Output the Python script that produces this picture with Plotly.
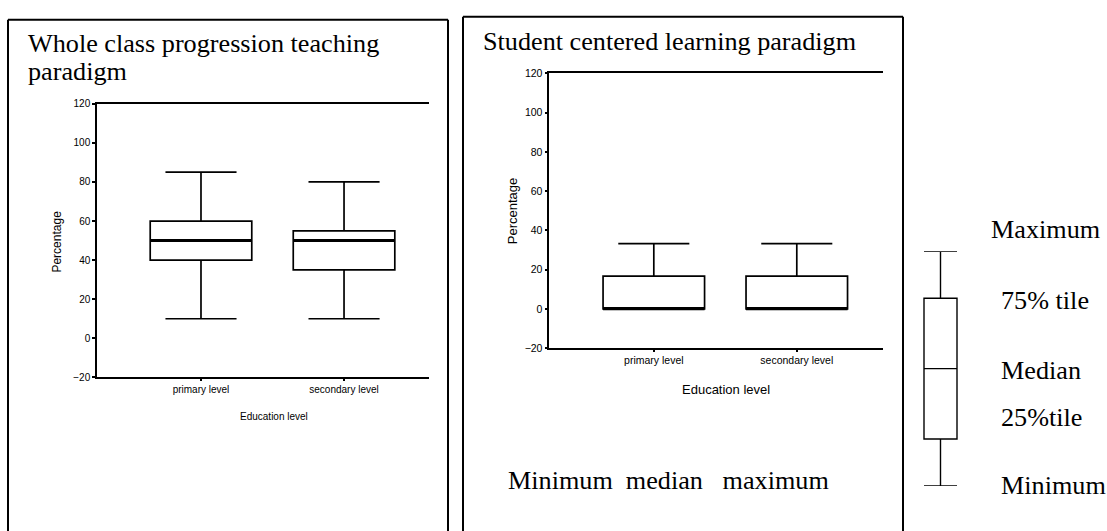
import plotly.graph_objects as go

W, H = 1107, 531

# ---------------- data ----------------
categories = ["primary level", "secondary level"]

# Whole class progression teaching paradigm
whole_min = [10, 10]
whole_q1 = [40, 35]
whole_median = [50, 50]
whole_q3 = [60, 55]
whole_max = [85, 80]

# Student centered learning paradigm
student_min = [0, 0]
student_q1 = [0, 0]
student_median = [0, 0]
student_q3 = [16.7, 16.7]
student_max = [33.3, 33.3]

# schematic key box (illustrative values)
key_stats = {"min": 0, "q1": 2, "median": 5, "q3": 8, "max": 10}
key_labels = ["Maximum", "75% tile", "Median", "25%tile", "Minimum"]

y_ticks = [-20, 0, 20, 40, 60, 80, 100, 120]

# ---------------- helpers ----------------
def px(x):
    return x / W

def py(y):
    return 1 - y / H

BOX_W = 0.71
SERIF = "Liberation Serif, Times New Roman, serif"
SANS = "Liberation Sans, Arial, sans-serif"
SERIF_SIZE = 26.2

fig = go.Figure()
xpos = list(range(len(categories)))

def add_panel(xa, ya, q1, med, q3, lo, hi):
    fig.add_trace(go.Box(
        x=xpos, q1=q1, median=med, q3=q3, lowerfence=lo, upperfence=hi,
        width=BOX_W, whiskerwidth=0.7, boxpoints=False,
        fillcolor="rgba(255,255,255,0)", line=dict(color="black", width=1.7),
        xaxis=xa, yaxis=ya, showlegend=False, hoverinfo="skip",
    ))
    mx, my = [], []
    for i, m in zip(xpos, med):
        mx += [i - BOX_W / 2, i + BOX_W / 2, None]
        my += [m, m, None]
    fig.add_trace(go.Scatter(
        x=mx, y=my, mode="lines", line=dict(color="black", width=3),
        xaxis=xa, yaxis=ya, showlegend=False, hoverinfo="skip",
    ))

add_panel("x", "y", whole_q1, whole_median, whole_q3, whole_min, whole_max)
add_panel("x2", "y2", student_q1, student_median, student_q3, student_min, student_max)

# key schematic
fig.add_trace(go.Box(
    x=[0], q1=[key_stats["q1"]], median=[key_stats["median"]], q3=[key_stats["q3"]],
    lowerfence=[key_stats["min"]], upperfence=[key_stats["max"]],
    width=1, whiskerwidth=1, boxpoints=False,
    fillcolor="rgba(255,255,255,0)", line=dict(color="black", width=1.4),
    xaxis="x3", yaxis="y3", showlegend=False, hoverinfo="skip",
))

def xaxis_cfg(domain, rng, size):
    return dict(domain=domain, range=rng, tickvals=xpos, ticktext=categories,
                showline=True, mirror=True, linecolor="black", linewidth=1.5,
                ticks="outside", ticklen=2, tickwidth=1.5, tickcolor="black",
                showgrid=False, zeroline=False,
                tickfont=dict(family=SANS, size=size, color="black"))

def yaxis_cfg(domain, size):
    return dict(domain=domain, range=[-20, 120], tickvals=y_ticks,
                showline=True, mirror=False, linecolor="black", linewidth=1.5,
                ticks="outside", ticklen=3, tickwidth=1.5, tickcolor="black",
                showgrid=False, zeroline=False,
                tickfont=dict(family=SANS, size=size, color="black"))

fig.update_layout(
    width=W, height=H, autosize=False,
    margin=dict(l=0, r=0, t=0, b=0),
    paper_bgcolor="white", plot_bgcolor="rgba(0,0,0,0)",
    xaxis=xaxis_cfg([px(97), px(429)], [-0.727, 1.594], 10),
    yaxis=yaxis_cfg([py(380), py(100)], 10),
    xaxis2=xaxis_cfg([px(549.3), px(883)], [-0.731, 1.603], 10.5),
    yaxis2=yaxis_cfg([py(350), py(69)], 10.5),
    xaxis3=dict(domain=[px(907.5), px(973.5)], range=[-1, 1], visible=False),
    yaxis3=dict(domain=[py(491), py(251)], range=[0, 10], visible=False),
)
fig.layout.xaxis2.anchor = "y2"
fig.layout.yaxis2.anchor = "x2"
fig.layout.xaxis3.anchor = "y3"
fig.layout.yaxis3.anchor = "x3"

# panel borders (open at the bottom, running off the page)
line_style = dict(color="black", width=2)
for x0, x1, top in [(8, 448, 14), (463, 903, 11)]:
    fig.add_shape(type="line", xref="paper", yref="paper", x0=px(x0), x1=px(x1), y0=py(top), y1=py(top), line=line_style)
    fig.add_shape(type="line", xref="paper", yref="paper", x0=px(x0), x1=px(x0), y0=py(top), y1=py(545), line=line_style)
    fig.add_shape(type="line", xref="paper", yref="paper", x0=px(x1), x1=px(x1), y0=py(top), y1=py(545), line=line_style)

def text(t, x, y, size, family=SERIF, angle=0, xanchor="left"):
    fig.add_annotation(text=t, x=px(x), y=py(y), xref="paper", yref="paper",
                       xanchor=xanchor, yanchor="middle", showarrow=False,
                       textangle=angle, font=dict(family=family, size=size, color="black"))

# titles
text("Whole class progression teaching", 26, 38, SERIF_SIZE)
text("paradigm", 26, 67.5, SERIF_SIZE)
text("Student centered learning paradigm", 481, 36.5, SERIF_SIZE)
text("Minimum\u00a0\u00a0median\u00a0\u00a0\u00a0maximum", 506, 485.5, SERIF_SIZE)

# axis titles
text("Percentage", 57, 241, 12, SANS, -90, "center")
text("Percentage", 512, 210, 13, SANS, -90, "center")
text("Education level", 273.5, 420, 10, SANS, 0, "center")
text("Education level", 725.5, 392, 13, SANS, 0, "center")

# key labels
for lab, x, y in zip(key_labels, [989, 999, 999, 999, 999], [229, 301.5, 373, 421, 491]):
    text(lab, x, y, SERIF_SIZE)

page_css = (
    "var gd=document.getElementById('{plot_id}');"
    "gd.style.position='absolute';gd.style.left='0px';gd.style.top='0px';"
    "var de=document.documentElement, b=document.body;"
    "[de,b].forEach(function(e){e.style.margin='0';e.style.padding='0';"
    "e.style.overflow='hidden';e.style.height='531px';e.style.width='1107px';});"
)

fig.write_html("out.html", config={"displayModeBar": False}, post_script=page_css)
